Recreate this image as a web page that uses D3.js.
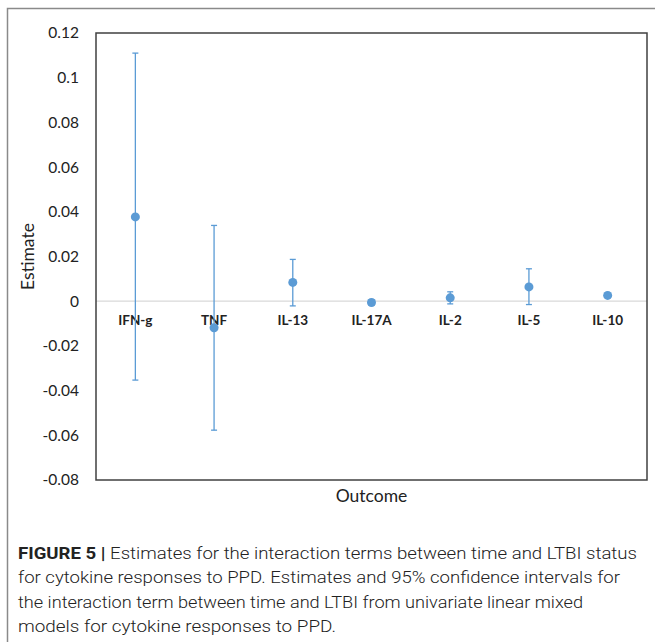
<!DOCTYPE html>
<html lang="en">
<head>
<meta charset="UTF-8">
<title>Figure 5 - Interaction term estimates</title>
<script src="https://d3js.org/d3.v7.min.js"></script>
<style>
    body {
        margin: 0;
        background-color: #fff;
    }

    .tick text {
        font-family: Lato, "Open Sans", sans-serif;
    }

    .caption {
        font-family: Roboto, "Liberation Sans", sans-serif;
        font-weight: 300;
        font-size: 17px;
        fill: #222;
    }
</style>
</head>
<body>

<div id="chart"></div>

<script>
    const outcomes = ["IFN-g", "TNF", "IL-13", "IL-17A", "IL-2", "IL-5", "IL-10"];
    const estimates = [0.0377, -0.0119, 0.0084, -0.0006, 0.0015, 0.0064, 0.0026];
    const lowerCI = [-0.0353, -0.0577, -0.0021, -0.0018, -0.0012, -0.0015, 0.0017];
    const upperCI = [0.111, 0.0339, 0.0187, 0.0007, 0.0042, 0.0145, 0.0035];
    const yTicks = [0.12, 0.1, 0.08, 0.06, 0.04, 0.02, 0, -0.02, -0.04, -0.06, -0.08];

    const captionLines = [
        { bold: "FIGURE 5 | ", text: "Estimates for the interaction terms between time and LTBI status" },
        { bold: "", text: "for cytokine responses to PPD. Estimates and 95% confidence intervals for" },
        { bold: "", text: "the interaction term between time and LTBI from univariate linear mixed" },
        { bold: "", text: "models for cytokine responses to PPD." }
    ];
    const captionWidths = [619, 602, 565, 318];

    const data = outcomes.map((name, i) => ({
        name: name,
        est: estimates[i],
        lo: lowerCI[i],
        hi: upperCI[i]
    }));

    const svg = d3.select("#chart")
        .append("svg")
        .attr("width", 655)
        .attr("height", 642);

    // outer figure frame (left and top edges)
    svg.append("path")
        .attr("d", "M7.5,642 V8.5 H655")
        .attr("fill", "none")
        .attr("stroke", "#8a8a8a")
        .attr("stroke-width", 1.5);

    const margin = { top: 33, left: 96 };
    const width = 551;
    const height = 447;

    const chart = svg.append("g")
        .attr("transform", `translate(${margin.left},${margin.top})`);

    const x = d3.scaleBand()
        .domain(outcomes)
        .range([0, width]);

    const y = d3.scaleLinear()
        .domain([-0.08, 0.12])
        .range([height, 0]);

    // zero line
    chart.append("line")
        .attr("x1", 0)
        .attr("x2", width)
        .attr("y1", y(0))
        .attr("y2", y(0))
        .attr("stroke", "#d9d9d9")
        .attr("stroke-width", 1.2);

    const yAxis = d3.axisLeft(y)
        .tickValues(yTicks)
        .tickSize(0)
        .tickPadding(17)
        .tickFormat(d => String(d));

    chart.append("g")
        .call(yAxis)
        .call(g => g.select(".domain").remove())
        .selectAll("text")
        .attr("font-size", 15.5)
        .attr("fill", "#222");

    // category labels sit just below the zero line
    const xAxis = d3.axisBottom(x).tickSize(0).tickPadding(14);
    chart.append("g")
        .attr("transform", `translate(0,${y(0)})`)
        .call(xAxis)
        .call(g => g.select(".domain").remove())
        .selectAll("text")
        .attr("font-size", 13.5)
        .attr("font-weight", "bold")
        .attr("fill", "#222");

    // plot frame
    chart.append("rect")
        .attr("width", width)
        .attr("height", height)
        .attr("fill", "none")
        .attr("stroke", "#404040")
        .attr("stroke-width", 1.5);

    const color = "#5b9bd5";
    const cx = d => x(d.name) + x.bandwidth() / 2;

    const bars = chart.selectAll(".err")
        .data(data)
        .enter()
        .append("g")
        .attr("class", "err");

    bars.append("line")
        .attr("x1", cx).attr("x2", cx)
        .attr("y1", d => y(d.lo)).attr("y2", d => y(d.hi))
        .attr("stroke", color).attr("stroke-width", 1.3);

    ["lo", "hi"].forEach(k => {
        bars.append("line")
            .attr("x1", d => cx(d) - 3).attr("x2", d => cx(d) + 3)
            .attr("y1", d => y(d[k])).attr("y2", d => y(d[k]))
            .attr("stroke", color).attr("stroke-width", 1.3);
    });

    bars.append("circle")
        .attr("cx", cx)
        .attr("cy", d => y(d.est))
        .attr("r", 4.5)
        .attr("fill", color);

    // axis titles
    svg.append("text")
        .attr("transform", `translate(34,${margin.top + y(0.02)}) rotate(-90)`)
        .attr("text-anchor", "middle")
        .attr("font-family", "Lato, 'Open Sans', sans-serif")
        .attr("font-size", 17.5)
        .attr("fill", "#222")
        .text("Estimate");

    svg.append("text")
        .attr("x", margin.left + width / 2)
        .attr("y", 502)
        .attr("text-anchor", "middle")
        .attr("font-family", "Lato, 'Open Sans', sans-serif")
        .attr("font-size", 17.5)
        .attr("fill", "#222")
        .text("Outcome");

    // caption
    captionLines.forEach((line, i) => {
        const t = svg.append("text")
            .attr("class", "caption")
            .attr("x", 18)
            .attr("y", 559 + i * 24.3)
            .attr("textLength", captionWidths[i])
            .attr("lengthAdjust", "spacingAndGlyphs");
        if (line.bold) {
            t.append("tspan").attr("font-weight", "bold").text(line.bold);
        }
        t.append("tspan").text(line.text);
    });
</script>

</body>
</html>
